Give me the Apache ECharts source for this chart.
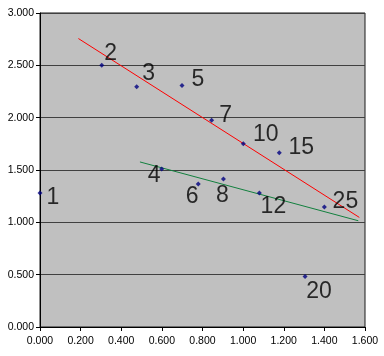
<!DOCTYPE html>
<html>
<head>
<meta charset="utf-8">
<script src="https://cdn.jsdelivr.net/npm/echarts@6/dist/echarts.min.js"></script>
<style>html,body{margin:0;padding:0;background:#fff}#c{width:384px;height:356px}</style>
</head>
<body>
<div id="c"></div>
<script>
// Data
var pointNames = ['1','2','3','4','5','6','7','8','10','12','15','20','25'];
var pointX = [0.000, 0.304, 0.476, 0.599, 0.699, 0.779, 0.845, 0.903, 1.001, 1.080, 1.178, 1.305, 1.400];
var pointY = [1.281, 2.500, 2.296, 1.510, 2.308, 1.367, 1.976, 1.415, 1.750, 1.281, 1.664, 0.482, 1.147];
var redLineX = [0.189, 1.572];
var redLineY = [2.756, 1.047];
var greenLineX = [0.492, 1.567];
var greenLineY = [1.577, 1.015];
var xTicks = [0, 0.2, 0.4, 0.6, 0.8, 1.0, 1.2, 1.4, 1.6];
var yTicks = [0, 0.5, 1.0, 1.5, 2.0, 2.5, 3.0];

// Label layout (pixel offsets of label centre from point)
var labelOffsets = {
  '1': [13, 5], '2': [9, -12], '3': [12, -13], '4': [-7.5, 6.5], '5': [16, -5.5],
  '6': [-6, 13], '7': [14, -5], '8': [-1, 17], '10': [22.5, -9], '12': [14, 14],
  '15': [22, -5], '20': [14, 15], '25': [21, -5]
};

var scatterData = pointNames.map(function (n, i) {
  return {
    name: n,
    value: [pointX[i], pointY[i]],
    label: { offset: labelOffsets[n] }
  };
});

var chart = echarts.init(document.getElementById('c'), null, { renderer: 'canvas' });
var font = 'Liberation Sans, Arial, sans-serif';
chart.setOption({
  animation: false,
  grid: {
    left: 40, right: 19, top: 13, bottom: 29,
    show: true, backgroundColor: '#c0c0c0', borderColor: '#1a1a1a', borderWidth: 1
  },
  xAxis: {
    type: 'value', min: xTicks[0], max: xTicks[xTicks.length - 1], interval: 0.2,
    axisLine: { show: true, onZero: false, lineStyle: { color: '#000', width: 1 } },
    axisTick: { show: true, length: 4, lineStyle: { color: '#000' } },
    axisLabel: { formatter: function (v) { return v.toFixed(3); }, fontFamily: font, fontSize: 10.5, color: '#000', margin: 9 },
    splitLine: { show: false }
  },
  yAxis: {
    type: 'value', min: yTicks[0], max: yTicks[yTicks.length - 1], interval: 0.5,
    axisLine: { show: true, onZero: false, lineStyle: { color: '#000', width: 1 } },
    axisTick: { show: true, length: 4, lineStyle: { color: '#000' } },
    axisLabel: { formatter: function (v) { return v.toFixed(3); }, fontFamily: font, fontSize: 10.5, color: '#000', margin: 6 },
    splitLine: { show: true, lineStyle: { color: '#404040', width: 1 } }
  },
  series: [
    {
      type: 'line', data: redLineX.map(function (x, i) { return [x, redLineY[i]]; }),
      symbol: 'none', lineStyle: { color: '#ff0000', width: 1 }, z: 2
    },
    {
      type: 'line', data: greenLineX.map(function (x, i) { return [x, greenLineY[i]]; }),
      symbol: 'none', lineStyle: { color: '#12803e', width: 1 }, z: 2
    },
    {
      type: 'scatter', data: scatterData, symbol: 'diamond', symbolSize: 5,
      itemStyle: { color: '#000080' }, z: 3,
      label: {
        show: true, position: 'inside', formatter: '{b}',
        fontFamily: font, fontSize: 23, color: '#000', textBorderWidth: 0, textShadowBlur: 0
      }
    }
  ]
});
</script>
</body>
</html>
